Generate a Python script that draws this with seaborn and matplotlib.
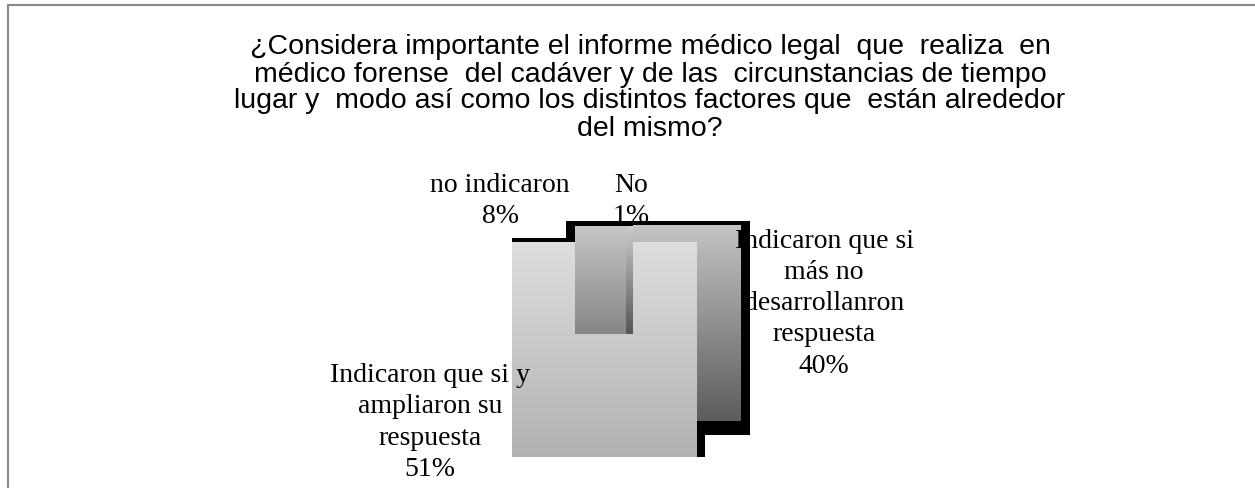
import matplotlib
matplotlib.use("Agg")
import matplotlib.pyplot as plt
import seaborn as sns
import numpy as np
from matplotlib.patches import Rectangle

# survey answers, in the order the slices go clockwise from 12 o'clock
answers = ["Indicaron que si\nmás no\ndesarrollanron\nrespuesta",
           "Indicaron que si y\nampliaron su\nrespuesta",
           "no indicaron",
           "No"]
shares = [40, 51, 8, 1]

title = ("¿Considera importante el informe médico legal  que  realiza  en\n"
         "médico forense  del cadáver y de las  circunstancias de tiempo\n"
         "lugar y  modo así como los distintos factores que  están alrededor\n"
         "del mismo?")

# style: gradient top/bottom colour of each slice face
shades = [("#c4c4c4", "#5c5c5c"), ("#dedede", "#b2b2b2"),
          ("#c6c6c6", "#868686"), ("#cccccc", "#555555")]
# black side of each slice (left, right, top, bottom), in radius units
edges = [(0, 0.083, 0.046, 0.13), (0, 0.083, 0.046, 0.0),
         (0.083, 0, 0.046, 0), (0, 0, 0.046, 0)]
# front slice face is drawn a bit bigger (left, bottom)
grow = [(0, 0), (0.12, 0.14), (0, 0), (0, 0)]
label_pos = [(1.77, 0.29), (-1.88, -0.81), (-1.23, 1.24), (-0.02, 1.24)]

sns.set_theme(style="white")

fig = plt.figure(figsize=(12.55, 4.89), dpi=100)
ax = fig.add_axes([0, 0, 1, 1])

wedges, _ = ax.pie(shares, startangle=90, counterclock=False, radius=1)
ax.set_aspect("auto")
ax.axis("off")

gradient = np.linspace(0, 1, 256).reshape(-1, 1)
for i, w in enumerate(wedges):
    w.set_visible(False)
    bb = w.get_path().get_extents(w.get_patch_transform())
    x0, y0, x1, y1 = bb.x0, bb.y0, bb.x1, bb.y1
    x0 -= grow[i][0]
    y0 -= grow[i][1]
    l, r, t, b = edges[i]
    ax.add_patch(Rectangle((x0 - l, y0 - b), (x1 - x0) + l + r, (y1 - y0) + t + b,
                           facecolor="black", edgecolor="none", zorder=1))
    cmap = sns.blend_palette(list(shades[i]), as_cmap=True)
    ax.imshow(gradient, extent=(x0, x1, y0, y1), cmap=cmap, aspect="auto",
              origin="upper", interpolation="bilinear", zorder=2 + i)
    ax.text(label_pos[i][0], label_pos[i][1], f"{answers[i]}\n{shares[i]}%",
            ha="center", va="center", family="Liberation Serif", fontsize=20,
            color="black", linespacing=1.33, zorder=10)

ax.set_xlim(-633 / 108, (1255 - 633) / 108)
ax.set_ylim(-(489 - 335) / 108, 335 / 108)

fig.text(650 / 1255, 1 - 88 / 489, title, ha="center", va="center", color="black",
         family="Liberation Sans", fontsize=20.5, linespacing=1.05)

fig.add_artist(Rectangle((8 / 1255, -0.1), 1.2, 1 - 6 / 489 + 0.1,
                         transform=fig.transFigure, fill=False,
                         edgecolor="#888888", linewidth=1.5))

fig.savefig("out.png", dpi=100)
